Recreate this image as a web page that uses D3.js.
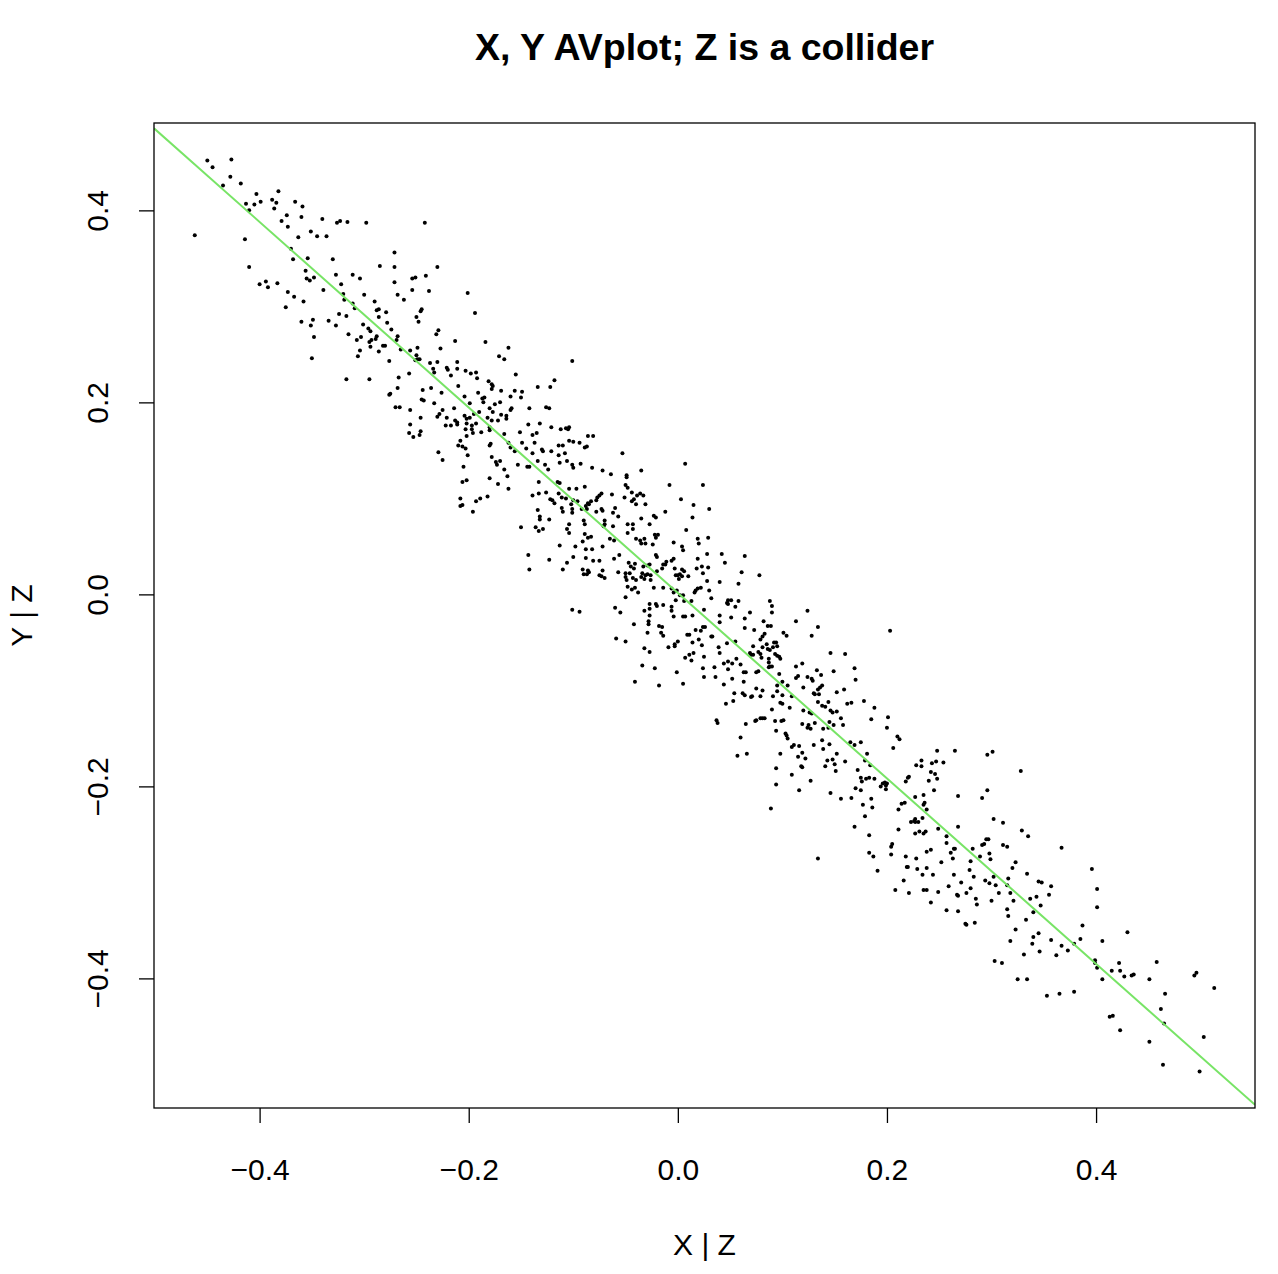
<!DOCTYPE html>
<html><head><meta charset="utf-8">
<script src="https://cdn.jsdelivr.net/npm/d3@7"></script>
<style>body{margin:0;background:#fff}svg{display:block}</style>
</head><body>
<svg id="chart" width="1278" height="1274"></svg>
<script>
const titleText = "X, Y AVplot; Z is a collider";
const xLabel = "X | Z";
const yLabel = "Y | Z";
const xTicks = [-0.4, -0.2, 0.0, 0.2, 0.4];
const yTicks = [-0.4, -0.2, 0.0, 0.2, 0.4];
const fitIntercept = 0.0015;
const fitSlope = -0.966;
// [x|Z, y|Z] residual pairs
const points = [
[-0.450,0.452],[-0.445,0.445],[-0.427,0.453],[-0.428,0.435],[-0.435,0.426],[-0.418,0.428],[-0.403,0.417],[-0.413,0.407],[-0.405,0.406],[-0.399,0.409],[-0.410,0.400],[-0.388,0.411],[-0.462,0.374],[-0.414,0.370],[-0.410,0.341],[-0.400,0.323],[-0.394,0.326],[-0.392,0.320],
[-0.382,0.420],[-0.384,0.408],[-0.386,0.402],[-0.366,0.409],[-0.359,0.404],[-0.374,0.395],[-0.379,0.389],[-0.360,0.393],[-0.373,0.383],[-0.340,0.391],[-0.326,0.387],[-0.323,0.389],[-0.316,0.388],[-0.351,0.378],[-0.363,0.372],[-0.345,0.373],[-0.336,0.373],[-0.370,0.360],[-0.368,0.349],[-0.354,0.350],[-0.330,0.349],[-0.356,0.337],[-0.355,0.329],[-0.352,0.327],[-0.348,0.330],[-0.327,0.333],[-0.311,0.333],[-0.322,0.323],[-0.383,0.324],[-0.373,0.315],[-0.367,0.310],[-0.358,0.305],[-0.339,0.317],[-0.320,0.313],[-0.319,0.307],[-0.311,0.303],[-0.309,0.298],[-0.375,0.299],[-0.324,0.292],[-0.317,0.290],[-0.360,0.284],[-0.349,0.286],[-0.351,0.280],[-0.334,0.285],[-0.327,0.280],[-0.348,0.268],[-0.315,0.271],[-0.307,0.265],[-0.306,0.248],[-0.350,0.246],[-0.317,0.224],
[-0.298,0.387],[-0.242,0.387],[-0.271,0.356],[-0.285,0.342],[-0.271,0.341],[-0.230,0.341],[-0.304,0.329],[-0.271,0.325],[-0.254,0.329],[-0.251,0.330],[-0.241,0.332],[-0.300,0.312],[-0.268,0.312],[-0.254,0.317],[-0.238,0.316],[-0.262,0.307],[-0.290,0.305],[-0.288,0.296],[-0.286,0.297],[-0.279,0.294],[-0.286,0.289],[-0.246,0.295],[-0.245,0.297],[-0.250,0.289],[-0.248,0.284],[-0.278,0.283],[-0.301,0.281],[-0.274,0.276],[-0.296,0.277],[-0.294,0.274],[-0.229,0.275],[-0.231,0.271],[-0.303,0.268],[-0.288,0.269],[-0.289,0.266],[-0.293,0.265],[-0.295,0.263],[-0.268,0.269],[-0.269,0.265],[-0.294,0.258],[-0.282,0.259],[-0.280,0.259],[-0.304,0.254],[-0.286,0.253],[-0.265,0.255],[-0.256,0.254],[-0.249,0.257],[-0.227,0.256],[-0.250,0.249],[-0.249,0.245],[-0.247,0.245],[-0.251,0.244],[-0.276,0.243],[-0.237,0.241],[-0.230,0.242],[-0.234,0.235],[-0.233,0.231],[-0.257,0.230],[-0.267,0.226],[-0.295,0.224],[-0.268,0.215],[-0.275,0.209],[-0.276,0.208],[-0.244,0.213],[-0.236,0.215],[-0.226,0.210],[-0.245,0.203],[-0.243,0.202],[-0.233,0.199],[-0.270,0.195],[-0.266,0.195],[-0.256,0.192],[-0.225,0.192],[-0.228,0.188],[-0.230,0.185],[-0.246,0.184],[-0.256,0.177],[-0.246,0.170],[-0.257,0.168],[-0.253,0.164],[-0.247,0.166],[-0.229,0.148],[-0.225,0.140],
[-0.201,0.314],[-0.194,0.293],[-0.213,0.264],[-0.184,0.263],[-0.162,0.257],[-0.171,0.248],[-0.166,0.245],[-0.221,0.236],[-0.220,0.234],[-0.217,0.228],[-0.211,0.242],[-0.211,0.235],[-0.203,0.233],[-0.198,0.230],[-0.193,0.231],[-0.192,0.225],[-0.155,0.229],[-0.181,0.222],[-0.178,0.219],[-0.177,0.217],[-0.178,0.214],[-0.210,0.217],[-0.191,0.210],[-0.204,0.206],[-0.169,0.212],[-0.156,0.212],[-0.149,0.211],[-0.150,0.205],[-0.160,0.206],[-0.187,0.204],[-0.185,0.205],[-0.186,0.200],[-0.199,0.199],[-0.175,0.198],[-0.170,0.200],[-0.180,0.194],[-0.159,0.194],[-0.160,0.192],[-0.142,0.194],[-0.214,0.194],[-0.190,0.190],[-0.195,0.188],[-0.177,0.190],[-0.221,0.184],[-0.204,0.186],[-0.202,0.183],[-0.199,0.184],[-0.213,0.181],[-0.211,0.179],[-0.211,0.177],[-0.222,0.176],[-0.217,0.176],[-0.202,0.178],[-0.193,0.178],[-0.197,0.176],[-0.182,0.184],[-0.178,0.181],[-0.172,0.181],[-0.169,0.187],[-0.164,0.186],[-0.164,0.183],[-0.143,0.177],[-0.203,0.172],[-0.197,0.172],[-0.196,0.168],[-0.188,0.169],[-0.180,0.174],[-0.180,0.171],[-0.166,0.167],[-0.151,0.169],[-0.139,0.166],[-0.202,0.165],[-0.208,0.160],[-0.210,0.155],[-0.206,0.154],[-0.203,0.152],[-0.180,0.155],[-0.179,0.157],[-0.162,0.158],[-0.160,0.153],[-0.149,0.158],[-0.145,0.152],[-0.139,0.147],[-0.156,0.149],[-0.201,0.145],[-0.178,0.143],[-0.174,0.138],[-0.170,0.139],[-0.173,0.135],[-0.153,0.135],[-0.144,0.133],[-0.142,0.133],[-0.205,0.133],[-0.166,0.130],[-0.163,0.123],[-0.180,0.121],[-0.202,0.119],[-0.206,0.117],[-0.172,0.115],[-0.162,0.110],[-0.208,0.100],[-0.182,0.102],[-0.189,0.100],[-0.193,0.097],[-0.206,0.093],[-0.208,0.092],[-0.196,0.086],[-0.139,0.103],[-0.150,0.070],[-0.143,0.041],[-0.142,0.026],
[-0.101,0.243],[-0.118,0.223],[-0.134,0.216],[-0.122,0.216],[-0.126,0.195],[-0.123,0.194],[-0.132,0.178],[-0.135,0.168],[-0.137,0.158],[-0.121,0.174],[-0.112,0.172],[-0.107,0.173],[-0.104,0.174],[-0.105,0.172],[-0.104,0.160],[-0.100,0.159],[-0.094,0.158],[-0.086,0.165],[-0.081,0.165],[-0.130,0.151],[-0.129,0.149],[-0.121,0.149],[-0.114,0.155],[-0.110,0.155],[-0.108,0.147],[-0.114,0.145],[-0.113,0.137],[-0.106,0.139],[-0.101,0.135],[-0.100,0.132],[-0.093,0.136],[-0.089,0.153],[-0.087,0.154],[-0.082,0.132],[-0.072,0.129],[-0.064,0.125],[-0.134,0.139],[-0.127,0.135],[-0.124,0.130],[-0.133,0.117],[-0.115,0.117],[-0.113,0.116],[-0.104,0.110],[-0.097,0.110],[-0.089,0.112],[-0.133,0.105],[-0.126,0.106],[-0.122,0.099],[-0.120,0.098],[-0.118,0.095],[-0.114,0.105],[-0.111,0.101],[-0.107,0.100],[-0.100,0.098],[-0.102,0.094],[-0.096,0.097],[-0.086,0.095],[-0.083,0.097],[-0.078,0.098],[-0.077,0.101],[-0.075,0.103],[-0.073,0.105],[-0.063,0.104],[-0.134,0.088],[-0.111,0.090],[-0.110,0.086],[-0.101,0.089],[-0.101,0.085],[-0.092,0.089],[-0.087,0.089],[-0.088,0.092],[-0.085,0.094],[-0.073,0.089],[-0.060,0.090],[-0.072,0.087],[-0.062,0.085],[-0.057,0.081],[-0.132,0.081],[-0.132,0.078],[-0.123,0.078],[-0.104,0.073],[-0.106,0.068],[-0.104,0.064],[-0.090,0.077],[-0.089,0.073],[-0.078,0.086],[-0.070,0.077],[-0.070,0.073],[-0.071,0.071],[-0.062,0.071],[-0.136,0.070],[-0.133,0.066],[-0.129,0.068],[-0.089,0.063],[-0.086,0.059],[-0.083,0.060],[-0.091,0.055],[-0.113,0.051],[-0.098,0.050],[-0.088,0.047],[-0.082,0.047],[-0.072,0.050],[-0.065,0.058],[-0.061,0.056],[-0.056,0.041],[-0.100,0.039],[-0.106,0.033],[-0.123,0.036],[-0.110,0.026],[-0.088,0.038],[-0.081,0.035],[-0.075,0.035],[-0.091,0.026],[-0.086,0.025],[-0.090,0.021],[-0.087,0.021],[-0.085,0.023],[-0.075,0.020],[-0.073,0.019],[-0.070,0.017],[-0.072,0.025],[-0.061,0.037],[-0.057,0.023],[-0.101,-0.016],[-0.094,-0.018],[-0.060,-0.014],[-0.059,-0.046],
[-0.053,0.147],[0.007,0.136],[-0.035,0.129],[-0.049,0.124],[-0.049,0.122],[-0.050,0.114],[-0.048,0.111],[-0.008,0.114],[0.024,0.114],[-0.051,0.101],[-0.044,0.106],[-0.042,0.099],[-0.044,0.097],[-0.039,0.103],[-0.036,0.105],[-0.033,0.103],[-0.040,0.094],[-0.031,0.094],[0.003,0.099],[0.015,0.093],[-0.012,0.086],[-0.035,0.079],[-0.023,0.082],[-0.021,0.080],[0.014,0.080],[-0.048,0.073],[-0.043,0.073],[-0.048,0.064],[-0.043,0.068],[-0.027,0.073],[0.008,0.067],[-0.022,0.062],[-0.019,0.062],[-0.021,0.059],[0.019,0.058],[0.020,0.053],[-0.040,0.058],[-0.036,0.056],[-0.032,0.058],[-0.035,0.053],[-0.031,0.053],[-0.024,0.052],[-0.004,0.054],[0.004,0.050],[0.005,0.046],[-0.021,0.041],[-0.020,0.039],[-0.047,0.033],[-0.041,0.032],[-0.045,0.029],[-0.042,0.027],[-0.033,0.029],[-0.029,0.030],[-0.027,0.031],[-0.014,0.031],[-0.012,0.031],[-0.015,0.027],[-0.020,0.024],[-0.011,0.034],[-0.006,0.035],[-0.004,0.037],[-0.003,0.027],[-0.002,0.020],[0.000,0.020],[0.002,0.021],[0.004,0.026],[0.004,0.019],[0.001,0.016],[0.006,0.024],[0.010,0.019],[0.019,0.037],[0.018,0.027],[0.023,0.029],[0.024,0.022],[-0.050,0.022],[-0.050,0.018],[-0.046,0.022],[-0.049,0.015],[-0.043,0.017],[-0.040,0.015],[-0.035,0.018],[-0.034,0.022],[-0.031,0.020],[-0.029,0.021],[-0.026,0.020],[-0.026,0.015],[-0.032,0.016],[-0.041,0.007],[-0.048,0.008],[-0.044,0.005],[-0.038,0.002],[-0.023,0.007],[-0.014,0.007],[-0.006,0.006],[-0.004,0.002],[-0.001,0.004],[0.002,-0.001],[0.005,-0.001],[-0.002,-0.006],[0.006,-0.007],[0.013,-0.007],[0.016,0.002],[0.017,0.004],[0.019,0.006],[0.022,0.007],[-0.050,-0.003],[-0.027,-0.010],[-0.021,-0.010],[-0.020,-0.012],[-0.014,-0.011],[-0.027,-0.015],[-0.006,-0.013],[-0.006,-0.017],[-0.004,-0.023],[0.005,-0.023],[0.007,-0.023],[0.014,-0.022],[0.025,-0.016],[-0.055,-0.019],[-0.032,-0.017],[-0.027,-0.022],[-0.042,-0.031],[-0.028,-0.028],[-0.028,-0.031],[-0.029,-0.040],[-0.018,-0.033],[-0.015,-0.034],[-0.016,-0.040],[-0.014,-0.043],[0.009,-0.042],[0.011,-0.042],[0.017,-0.037],[0.022,-0.038],[0.024,-0.034],[0.026,-0.034],[-0.050,-0.049],[-0.032,-0.056],[-0.027,-0.060],[-0.009,-0.055],[-0.003,-0.052],[0.000,-0.049],[-0.003,-0.054],[0.014,-0.050],[0.020,-0.047],[0.023,-0.053],[0.015,-0.061],[0.007,-0.066],[0.011,-0.063],[0.013,-0.069],[0.025,-0.065],[0.024,-0.077],[-0.034,-0.074],[-0.022,-0.077],[-0.001,-0.081],[0.025,-0.086],[-0.041,-0.091],[-0.018,-0.095],[0.005,-0.093],
[0.030,0.089],[0.029,0.059],[0.028,0.042],[0.042,0.042],[0.045,0.033],[0.064,0.040],[0.029,0.028],[0.028,0.014],[0.040,0.013],[0.061,0.023],[0.058,0.011],[0.078,0.020],[0.030,0.004],[0.032,-0.004],[0.047,-0.009],[0.048,-0.006],[0.051,-0.006],[0.048,-0.010],[0.055,-0.013],[0.058,-0.007],[0.051,-0.024],[0.040,-0.022],[0.040,-0.029],[0.064,-0.025],[0.069,-0.019],[0.064,-0.035],[0.073,-0.037],[0.081,-0.044],[0.082,-0.028],[0.086,-0.033],[0.089,-0.033],[0.088,-0.007],[0.090,-0.012],[0.090,-0.019],[0.101,-0.040],[0.104,-0.043],[0.032,-0.044],[0.033,-0.044],[0.039,-0.055],[0.040,-0.061],[0.047,-0.051],[0.055,-0.049],[0.079,-0.047],[0.083,-0.041],[0.072,-0.054],[0.077,-0.060],[0.081,-0.055],[0.085,-0.052],[0.092,-0.050],[0.094,-0.050],[0.095,-0.054],[0.086,-0.057],[0.088,-0.058],[0.091,-0.055],[0.093,-0.062],[0.095,-0.064],[0.097,-0.065],[0.098,-0.067],[0.069,-0.061],[0.070,-0.063],[0.072,-0.063],[0.079,-0.062],[0.080,-0.066],[0.087,-0.067],[0.087,-0.071],[0.088,-0.075],[0.090,-0.075],[0.087,-0.076],[0.035,-0.076],[0.044,-0.072],[0.048,-0.070],[0.052,-0.072],[0.056,-0.067],[0.060,-0.073],[0.048,-0.078],[0.036,-0.086],[0.052,-0.088],[0.063,-0.081],[0.065,-0.081],[0.075,-0.081],[0.077,-0.080],[0.097,-0.083],[0.100,-0.091],[0.105,-0.095],[0.063,-0.091],[0.044,-0.094],[0.062,-0.103],[0.064,-0.105],[0.070,-0.107],[0.071,-0.106],[0.075,-0.098],[0.079,-0.106],[0.081,-0.100],[0.091,-0.106],[0.095,-0.095],[0.095,-0.101],[0.100,-0.105],[0.098,-0.113],[0.100,-0.114],[0.107,-0.118],[0.109,-0.106],[0.054,-0.103],[0.053,-0.111],[0.046,-0.114],[0.090,-0.120],[0.037,-0.131],[0.038,-0.134],[0.065,-0.135],[0.074,-0.132],[0.075,-0.131],[0.079,-0.129],[0.081,-0.129],[0.083,-0.129],[0.093,-0.132],[0.099,-0.132],[0.101,-0.131],[0.094,-0.142],[0.103,-0.145],[0.104,-0.147],[0.105,-0.150],[0.109,-0.159],[0.060,-0.149],[0.057,-0.168],[0.066,-0.166],[0.098,-0.166],[0.094,-0.181],[0.109,-0.188],[0.094,-0.198],[0.089,-0.223],
[0.124,-0.017],[0.113,-0.028],[0.134,-0.034],[0.128,-0.043],[0.146,-0.061],[0.160,-0.062],[0.113,-0.075],[0.119,-0.072],[0.113,-0.087],[0.115,-0.085],[0.124,-0.086],[0.128,-0.088],[0.129,-0.090],[0.133,-0.079],[0.137,-0.084],[0.149,-0.080],[0.169,-0.077],[0.170,-0.089],[0.120,-0.097],[0.130,-0.103],[0.131,-0.104],[0.134,-0.099],[0.136,-0.097],[0.138,-0.095],[0.135,-0.104],[0.134,-0.112],[0.138,-0.116],[0.141,-0.117],[0.144,-0.112],[0.152,-0.102],[0.159,-0.099],[0.146,-0.121],[0.148,-0.123],[0.152,-0.122],[0.156,-0.129],[0.162,-0.114],[0.166,-0.113],[0.178,-0.111],[0.188,-0.118],[0.185,-0.130],[0.120,-0.121],[0.126,-0.123],[0.128,-0.124],[0.119,-0.135],[0.125,-0.136],[0.127,-0.140],[0.124,-0.139],[0.131,-0.134],[0.139,-0.140],[0.144,-0.139],[0.149,-0.136],[0.145,-0.133],[0.158,-0.136],[0.138,-0.152],[0.139,-0.161],[0.145,-0.156],[0.152,-0.166],[0.165,-0.154],[0.169,-0.157],[0.175,-0.154],[0.181,-0.166],[0.179,-0.173],[0.184,-0.178],[0.111,-0.157],[0.116,-0.158],[0.119,-0.165],[0.115,-0.169],[0.122,-0.171],[0.118,-0.179],[0.119,-0.180],[0.130,-0.157],[0.143,-0.173],[0.148,-0.172],[0.150,-0.177],[0.151,-0.184],[0.141,-0.179],[0.160,-0.174],[0.172,-0.183],[0.175,-0.191],[0.176,-0.195],[0.180,-0.192],[0.183,-0.191],[0.188,-0.192],[0.194,-0.200],[0.127,-0.194],[0.116,-0.204],[0.146,-0.207],[0.156,-0.213],[0.166,-0.212],[0.170,-0.202],[0.175,-0.204],[0.177,-0.219],[0.185,-0.213],[0.186,-0.222],[0.179,-0.231],[0.169,-0.242],[0.183,-0.251],[0.183,-0.269],[0.187,-0.273],[0.191,-0.288],[0.134,-0.275],
[0.203,-0.038],[0.201,-0.128],[0.200,-0.139],[0.210,-0.148],[0.212,-0.151],[0.206,-0.160],[0.196,-0.197],[0.198,-0.196],[0.199,-0.199],[0.199,-0.203],[0.200,-0.197],[0.218,-0.195],[0.220,-0.191],[0.221,-0.190],[0.248,-0.163],[0.265,-0.163],[0.228,-0.178],[0.233,-0.173],[0.233,-0.179],[0.243,-0.176],[0.247,-0.174],[0.254,-0.175],[0.242,-0.185],[0.246,-0.187],[0.248,-0.192],[0.240,-0.194],[0.245,-0.204],[0.268,-0.210],[0.227,-0.211],[0.235,-0.209],[0.236,-0.217],[0.235,-0.219],[0.234,-0.233],[0.238,-0.224],[0.211,-0.224],[0.214,-0.218],[0.217,-0.217],[0.223,-0.237],[0.226,-0.236],[0.227,-0.234],[0.227,-0.237],[0.230,-0.237],[0.211,-0.245],[0.227,-0.249],[0.231,-0.247],[0.235,-0.249],[0.237,-0.247],[0.249,-0.244],[0.257,-0.252],[0.268,-0.242],[0.205,-0.260],[0.204,-0.263],[0.204,-0.271],[0.242,-0.266],[0.238,-0.268],[0.257,-0.259],[0.261,-0.269],[0.264,-0.265],[0.265,-0.265],[0.263,-0.275],[0.252,-0.279],[0.218,-0.273],[0.228,-0.275],[0.219,-0.284],[0.220,-0.284],[0.229,-0.286],[0.234,-0.292],[0.238,-0.285],[0.244,-0.292],[0.264,-0.292],[0.216,-0.298],[0.208,-0.308],[0.221,-0.311],[0.235,-0.308],[0.238,-0.308],[0.249,-0.310],[0.259,-0.304],[0.271,-0.300],[0.267,-0.313],[0.268,-0.314],[0.276,-0.311],[0.242,-0.321],[0.257,-0.329],[0.268,-0.330],[0.275,-0.343],[0.276,-0.344],
[0.296,-0.167],[0.301,-0.164],[0.328,-0.184],[0.296,-0.204],[0.291,-0.212],[0.302,-0.234],[0.311,-0.238],[0.329,-0.246],[0.335,-0.252],[0.282,-0.265],[0.291,-0.261],[0.293,-0.260],[0.295,-0.255],[0.297,-0.255],[0.289,-0.273],[0.298,-0.270],[0.299,-0.276],[0.280,-0.278],[0.279,-0.287],[0.283,-0.294],[0.294,-0.298],[0.302,-0.294],[0.298,-0.301],[0.304,-0.303],[0.307,-0.311],[0.300,-0.319],[0.280,-0.306],[0.285,-0.317],[0.286,-0.323],[0.284,-0.342],[0.311,-0.261],[0.315,-0.263],[0.323,-0.279],[0.320,-0.285],[0.334,-0.291],[0.316,-0.296],[0.315,-0.303],[0.318,-0.311],[0.321,-0.319],[0.315,-0.328],[0.316,-0.335],[0.323,-0.349],[0.318,-0.361],[0.333,-0.339],[0.337,-0.317],[0.343,-0.315],[0.345,-0.299],[0.348,-0.300],[0.357,-0.304],[0.355,-0.313],[0.347,-0.324],[0.340,-0.331],[0.345,-0.353],[0.340,-0.357],[0.339,-0.364],[0.346,-0.372],[0.357,-0.360],[0.303,-0.382],[0.310,-0.384],[0.331,-0.375],[0.325,-0.401],[0.334,-0.401],[0.353,-0.418],
[0.367,-0.264],[0.396,-0.286],[0.401,-0.307],[0.401,-0.326],[0.387,-0.345],[0.385,-0.359],[0.379,-0.364],[0.367,-0.366],[0.373,-0.371],[0.362,-0.376],[0.406,-0.361],[0.430,-0.352],[0.399,-0.381],[0.399,-0.384],[0.401,-0.389],[0.406,-0.401],[0.415,-0.392],[0.422,-0.384],[0.423,-0.392],[0.427,-0.398],[0.434,-0.397],[0.436,-0.396],[0.365,-0.416],[0.379,-0.414],[0.413,-0.440],[0.416,-0.439],[0.423,-0.454],
[0.458,-0.383],[0.451,-0.401],[0.494,-0.397],[0.496,-0.394],[0.513,-0.410],[0.466,-0.416],[0.462,-0.432],[0.465,-0.447],[0.451,-0.466],[0.503,-0.461],[0.464,-0.490],[0.499,-0.497]
];

const box = {left: 154, right: 1255, top: 123, bottom: 1108};
const FONT = "'Liberation Sans', Arial, Helvetica, sans-serif";
const svg = d3.select("#chart");

function rExtent(vals) { // R-style 4% range extension
  const lo = d3.min(vals), hi = d3.max(vals), pad = (hi - lo) * 0.04;
  return [lo - pad, hi + pad];
}
const x = d3.scaleLinear().domain(rExtent(points.map(d => d[0]))).range([box.left, box.right]);
const y = d3.scaleLinear().domain(rExtent(points.map(d => d[1]))).range([box.bottom, box.top]);
const fmt = d => d3.format(".1f")(d);

// points
svg.append("g").selectAll("circle").data(points).join("circle")
  .attr("cx", d => x(d[0])).attr("cy", d => y(d[1])).attr("r", 2).attr("fill", "#000");

// fitted line clipped to box
svg.append("clipPath").attr("id", "clip").append("rect")
  .attr("x", box.left).attr("y", box.top).attr("width", box.right - box.left).attr("height", box.bottom - box.top);
const [x0, x1] = x.domain();
svg.append("line").attr("clip-path", "url(#clip)")
  .attr("x1", x(x0)).attr("y1", y(fitIntercept + fitSlope * x0))
  .attr("x2", x(x1)).attr("y2", y(fitIntercept + fitSlope * x1))
  .attr("stroke", "#78e466").attr("stroke-width", 2);

// box
svg.append("rect").attr("x", box.left).attr("y", box.top)
  .attr("width", box.right - box.left).attr("height", box.bottom - box.top)
  .attr("fill", "none").attr("stroke", "#000").attr("stroke-width", 1.3);

// x axis
const gx = svg.append("g").attr("transform", `translate(0,${box.bottom})`)
  .call(d3.axisBottom(x).tickValues(xTicks).tickFormat(fmt).tickSize(15).tickPadding(0));
gx.select(".domain").remove();
gx.selectAll(".tick line").attr("stroke", "#000").attr("stroke-width", 1.3);
gx.selectAll(".tick text").attr("y", 72).attr("dy", 0)
  .style("font-family", FONT).style("font-size", "30px").attr("fill", "#000");

// y axis
const gy = svg.append("g").attr("transform", `translate(${box.left},0)`)
  .call(d3.axisLeft(y).tickValues(yTicks).tickFormat(fmt).tickSize(15).tickPadding(0));
gy.select(".domain").remove();
gy.selectAll(".tick line").attr("stroke", "#000").attr("stroke-width", 1.3);
gy.selectAll(".tick text").attr("x", 0).attr("dy", 0).attr("text-anchor", "middle")
  .attr("transform", "translate(-46,0) rotate(-90)")
  .style("font-family", FONT).style("font-size", "30px").attr("fill", "#000");

// labels
svg.append("text").attr("x", (box.left + box.right) / 2).attr("y", 60)
  .attr("text-anchor", "middle").style("font-family", FONT).style("font-size", "37.5px")
  .style("font-weight", "bold").text(titleText);
svg.append("text").attr("x", (box.left + box.right) / 2).attr("y", 1255)
  .attr("text-anchor", "middle").style("font-family", FONT).style("font-size", "30px").text(xLabel);
svg.append("text").attr("transform", `translate(32,${(box.top + box.bottom) / 2}) rotate(-90)`)
  .attr("text-anchor", "middle").style("font-family", FONT).style("font-size", "30px").text(yLabel);
</script>
</body></html>
